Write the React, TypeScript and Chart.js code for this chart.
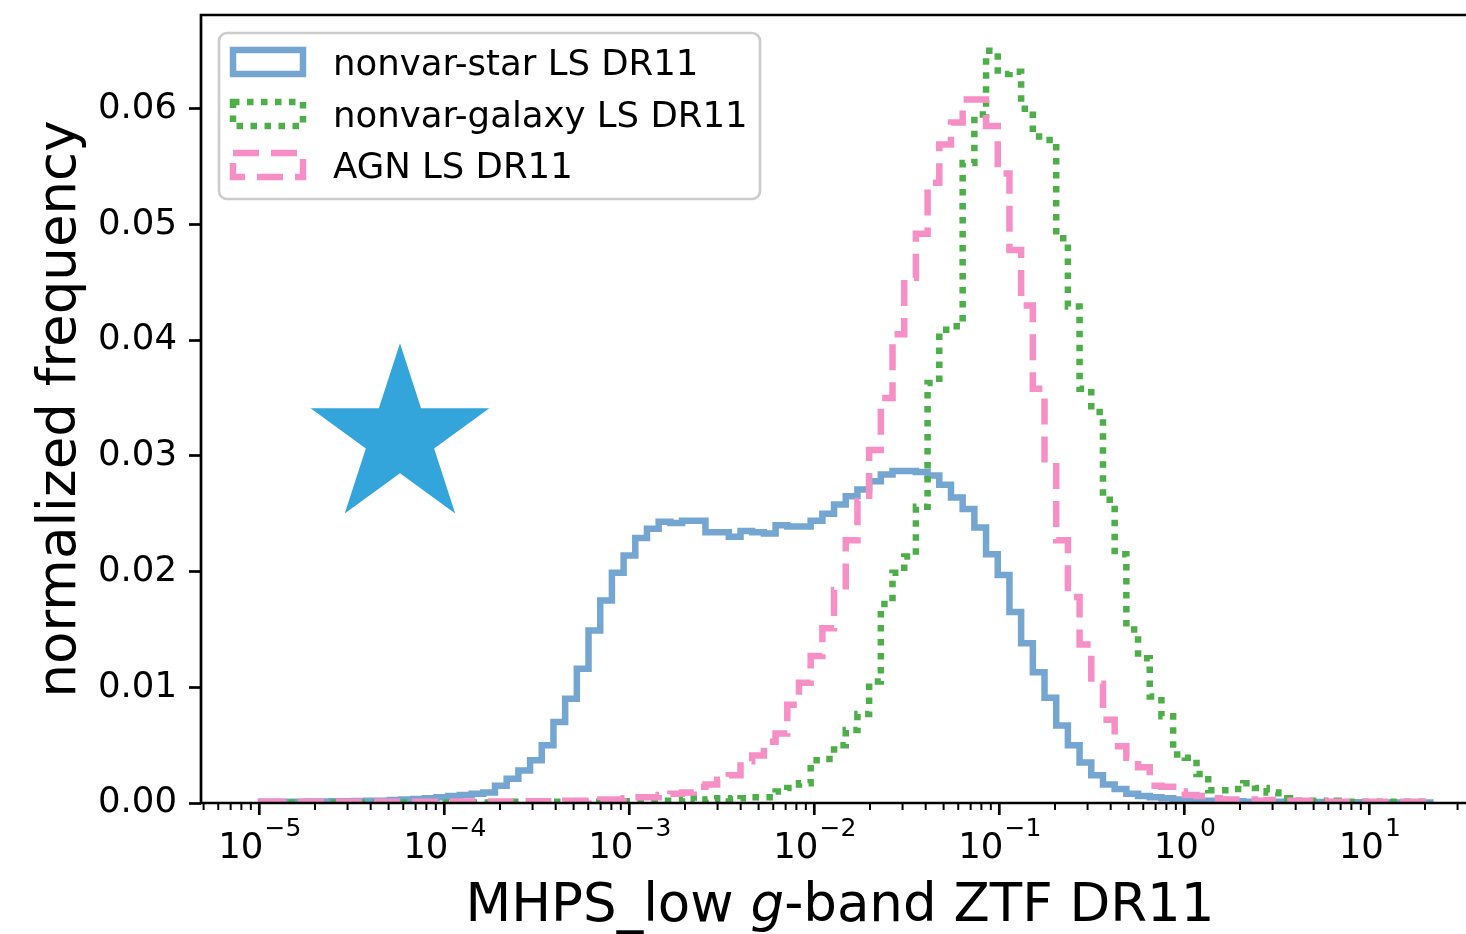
import React, { useEffect, useRef } from "react";
import { Chart, registerables } from "chart.js";

Chart.register(...registerables);

// ---- data -------------------------------------------------------------
const BIN_COUNT = 100;
const BIN_LOG_MIN = -4.99;
const BIN_LOG_MAX = 1.33;

const STAR_FREQ = [
  0.0001, 0.0001, 0.0001, 0.0001, 0.00012, 0.00012, 0.00015, 0.00015, 0.00018, 0.0002,
  0.0002, 0.00025, 0.0003, 0.00035, 0.0004, 0.0005, 0.0006, 0.0007, 0.0008, 0.0009,
  0.0015, 0.0021, 0.0028, 0.0037, 0.005, 0.007, 0.009, 0.0116, 0.0149, 0.0175,
  0.0199, 0.0214, 0.0229, 0.0237, 0.0243, 0.0242, 0.0244, 0.0244, 0.0234, 0.0234,
  0.023, 0.0235, 0.0234, 0.0233, 0.024, 0.0239, 0.0239, 0.0244, 0.025, 0.0258,
  0.0265, 0.0271, 0.0278, 0.0284, 0.0287, 0.0287, 0.0286, 0.0283, 0.0275, 0.0264,
  0.0254, 0.0238, 0.0215, 0.0197, 0.0165, 0.0138, 0.0113, 0.0091, 0.0067, 0.005,
  0.0035, 0.0024, 0.0016, 0.0012, 0.0008, 0.0006, 0.0005, 0.0004, 0.0003, 0.00025,
  0.0002, 0.0002, 0.00015, 0.00015, 0.0001, 0.0001, 0.0001, 0.0001, 0.0001, 0.0001,
  0.00008, 0.00008, 0.00006, 0.00006, 0.00005, 0.00005, 0.00005, 0.00004, 0.00004, 0.00004,
];

const GALAXY_FREQ = [
  0.00005, 0.00005, 0.00005, 0.00005, 0.00005, 0.00005, 0.00005, 0.00005, 0.00005, 0.00005,
  0.00005, 0.00005, 0.00005, 0.00005, 0.00005, 0.00005, 0.00005, 0.00005, 0.00005, 0.00005,
  0.00005, 0.0001, 0.0001, 0.0001, 0.0001, 0.0001, 0.0001, 0.0001, 0.0001, 0.0001,
  0.0001, 0.00015, 0.00015, 0.00015, 0.0002, 0.0002, 0.0004, 0.0002, 0.0003, 0.0004,
  0.0003, 0.0004, 0.0005, 0.0005, 0.001, 0.0013, 0.0017, 0.0037, 0.0038, 0.005,
  0.0063, 0.0077, 0.0105, 0.0172, 0.0199, 0.0213, 0.0256, 0.0363, 0.0409, 0.0412,
  0.0553, 0.0595, 0.065, 0.063, 0.0632, 0.06, 0.0576, 0.0573, 0.0488, 0.0429,
  0.0358, 0.0338, 0.0262, 0.0215, 0.015, 0.0125, 0.0092, 0.0075, 0.0042, 0.0039,
  0.0025, 0.0011, 0.0011, 0.0012, 0.0017, 0.0013, 0.0009, 0.0004, 0.0002, 0.0002,
  0.0002, 0.0001, 0.0002, 0.0001, 0.0001, 0.0001, 0.0001, 0.0001, 0.0001, 0.0001,
];

const AGN_FREQ = [
  0.0001, 0.0001, 0.0001, 0.0001, 0.0001, 0.0001, 0.0001, 0.0001, 0.0001, 0.0001,
  0.0001, 0.0001, 0.0001, 0.0001, 0.0001, 0.0001, 0.00012, 0.00012, 0.00012, 0.00012,
  0.00013, 0.00013, 0.00014, 0.00015, 0.00015, 0.00015, 0.0002, 0.0002, 0.00025, 0.0003,
  0.0003, 0.0004, 0.0005, 0.0005, 0.0007, 0.0008, 0.0009, 0.0014, 0.0016, 0.002,
  0.0024, 0.0036, 0.0041, 0.0053, 0.006, 0.0085, 0.0104, 0.0127, 0.0151, 0.0184,
  0.0227, 0.0261, 0.0305, 0.035, 0.0405, 0.0454, 0.0492, 0.0536, 0.0569, 0.0588,
  0.0608, 0.0608, 0.0585, 0.0544, 0.0478, 0.043, 0.0358, 0.0297, 0.0227, 0.0178,
  0.0137, 0.0103, 0.0072, 0.0049, 0.0039, 0.0031, 0.0015, 0.0014, 0.001, 0.0007,
  0.0006, 0.0004, 0.0003, 0.0003, 0.0003, 0.0002, 0.00025, 0.0002, 0.0002, 0.0002,
  0.00015, 0.0001, 0.0001, 0.0001, 0.0001, 0.0001, 0.0001, 0.0001, 0.0001, 0.0001,
];

const SERIES_LABELS = ["nonvar-star LS DR11", "nonvar-galaxy LS DR11", "AGN LS DR11"];
const Y_TICK_MAX = 0.06;
const Y_TICK_STEP = 0.01;
const X_DECADES = [-5, -4, -3, -2, -1, 0, 1];
const STAR_MARK = { x: 5.76e-5, y: 0.0316 };

// ---- styles -----------------------------------------------------------
const FONT = "DejaVu Sans";
const TICK_SIZE = 35.5;
const SUP_SIZE = 25;
const TITLE_SIZE = 53;
const BLUE = "#74a6d1";
const GREEN = "#4dae4a";
const PINK = "#f68fc6";
const STAR_COLOR = "#33a5da";
const LINE_W = 6.5;
const GREEN_DASH = [6.5, 7.5];
const PINK_DASH = [26, 12];

const X_MIN = Math.pow(10, -5.3151);
const X_MAX = Math.pow(10, 1.5227);
const Y_MAX = 0.0681;

const edges = Array.from({ length: BIN_COUNT + 1 }, (_, i) =>
  Math.pow(10, BIN_LOG_MIN + ((BIN_LOG_MAX - BIN_LOG_MIN) * i) / BIN_COUNT)
);

function stepPoints(freq: number[]) {
  const pts: { x: number; y: number }[] = [{ x: edges[0], y: 0 }];
  freq.forEach((v, i) => pts.push({ x: edges[i], y: v }));
  pts.push({ x: edges[BIN_COUNT], y: 0 });
  return pts;
}

const decorPlugin = {
  id: "decor",
  afterDatasetsDraw(chart: any) {
    const { ctx, chartArea, scales } = chart;
    const xs = scales.x;
    const ys = scales.y;
    ctx.save();
    // star marker
    const cx = xs.getPixelForValue(STAR_MARK.x);
    const cy = ys.getPixelForValue(STAR_MARK.y);
    const R = 94;
    const r = R * 0.381966;
    ctx.beginPath();
    for (let k = 0; k < 10; k++) {
      const a = -Math.PI / 2 + (k * Math.PI) / 5;
      const rad = k % 2 === 0 ? R : r;
      const px = cx + rad * Math.cos(a);
      const py = cy + rad * Math.sin(a);
      if (k === 0) ctx.moveTo(px, py);
      else ctx.lineTo(px, py);
    }
    ctx.closePath();
    ctx.fillStyle = STAR_COLOR;
    ctx.fill();

    // spines
    ctx.strokeStyle = "#000";
    ctx.lineWidth = 2.7;
    ctx.lineCap = "butt";
    ctx.beginPath();
    ctx.moveTo(chartArea.left, chartArea.bottom);
    ctx.lineTo(chartArea.left, chartArea.top);
    ctx.lineTo(chartArea.right + 5, chartArea.top);
    ctx.moveTo(chartArea.left - 1.35, chartArea.bottom);
    ctx.lineTo(chartArea.right + 5, chartArea.bottom);
    ctx.stroke();

    // x ticks (major and minor)
    for (let d = -6; d <= 2; d++) {
      for (let k = 1; k <= 9; k++) {
        const v = k * Math.pow(10, d);
        if (v < X_MIN || v > X_MAX) continue;
        const px = xs.getPixelForValue(v);
        const major = k === 1;
        ctx.lineWidth = major ? 2.7 : 2;
        ctx.beginPath();
        ctx.moveTo(px, chartArea.bottom);
        ctx.lineTo(px, chartArea.bottom + (major ? 12 : 7));
        ctx.stroke();
      }
    }

    // x tick labels
    ctx.fillStyle = "#000";
    ctx.textBaseline = "alphabetic";
    ctx.textAlign = "left";
    X_DECADES.forEach((d) => {
      const px = xs.getPixelForValue(Math.pow(10, d));
      const base = "10";
      const sup = d < 0 ? "\u2212" + Math.abs(d) : String(d);
      ctx.font = `${TICK_SIZE}px "${FONT}"`;
      const w1 = ctx.measureText(base).width;
      ctx.font = `${SUP_SIZE}px "${FONT}"`;
      const w2 = ctx.measureText(sup).width;
      const start = px - (w1 + w2) / 2;
      ctx.font = `${TICK_SIZE}px "${FONT}"`;
      ctx.fillText(base, start, 858);
      ctx.font = `${SUP_SIZE}px "${FONT}"`;
      ctx.fillText(sup, start + w1 + 1, 836);
    });

    // x title with italic g
    const parts = [
      { t: "MHPS_low ", f: `${TITLE_SIZE}px "${FONT}"` },
      { t: "g", f: `italic ${TITLE_SIZE}px "${FONT}"` },
      { t: "-band ZTF DR11", f: `${TITLE_SIZE}px "${FONT}"` },
    ];
    let total = 0;
    const widths = parts.map((p) => {
      ctx.font = p.f;
      const w = ctx.measureText(p.t).width;
      total += w;
      return w;
    });
    let tx = 840 - total / 2;
    parts.forEach((p, i) => {
      ctx.font = p.f;
      ctx.fillText(p.t, tx, 921);
      tx += widths[i];
    });

    // y title
    ctx.save();
    ctx.translate(75, 409);
    ctx.rotate(-Math.PI / 2);
    ctx.textAlign = "center";
    ctx.font = `${TITLE_SIZE}px "${FONT}"`;
    ctx.fillText("normalized frequency", 0, 0);
    ctx.restore();

    // legend
    const bx = 219, by = 33, bw = 541, bh = 166;
    ctx.beginPath();
    (ctx as any).roundRect(bx, by, bw, bh, 8);
    ctx.fillStyle = "rgba(255,255,255,0.8)";
    ctx.fill();
    ctx.strokeStyle = "#cccccc";
    ctx.lineWidth = 2.7;
    ctx.stroke();
    const rows = [62, 114, 165];
    const styles = [
      { c: BLUE, dash: [] as number[] },
      { c: GREEN, dash: GREEN_DASH },
      { c: PINK, dash: PINK_DASH },
    ];
    rows.forEach((ry, i) => {
      ctx.save();
      ctx.strokeStyle = styles[i].c;
      ctx.lineWidth = LINE_W;
      ctx.setLineDash(styles[i].dash);
      ctx.beginPath();
      ctx.rect(233, ry - 12, 70, 24);
      ctx.stroke();
      ctx.restore();
      ctx.fillStyle = "#000";
      ctx.font = `${TICK_SIZE}px "${FONT}"`;
      ctx.textAlign = "left";
      ctx.fillText(SERIES_LABELS[i], 333, ry + 13);
    });
    ctx.restore();
  },
};

export default function App() {
  const ref = useRef<HTMLCanvasElement | null>(null);
  useEffect(() => {
    if (!ref.current) return;
    const yTicks: number[] = [];
    for (let v = 0; v <= Y_TICK_MAX + 1e-9; v += Y_TICK_STEP) yTicks.push(+v.toFixed(2));
    const chart = new Chart(ref.current, {
      type: "line",
      data: {
        datasets: [
          {
            label: SERIES_LABELS[2],
            data: stepPoints(AGN_FREQ),
            borderColor: PINK,
            borderDash: PINK_DASH,
          },
          {
            label: SERIES_LABELS[1],
            data: stepPoints(GALAXY_FREQ),
            borderColor: GREEN,
            borderDash: GREEN_DASH,
          },
          {
            label: SERIES_LABELS[0],
            data: stepPoints(STAR_FREQ),
            borderColor: BLUE,
          },
        ].map((d) => ({
          ...d,
          borderWidth: LINE_W,
          pointRadius: 0,
          fill: false,
          stepped: "before" as const,
          tension: 0,
          borderCapStyle: "butt" as const,
          borderJoinStyle: "miter" as const,
        })),
      },
      options: {
        animation: false,
        responsive: false,
        devicePixelRatio: 1,
        layout: { padding: { top: 15, bottom: 131, left: 0, right: 0 }, autoPadding: false },
        plugins: { legend: { display: false }, tooltip: { enabled: false } },
        scales: {
          x: {
            type: "logarithmic",
            min: X_MIN,
            max: X_MAX,
            display: false,
          },
          y: {
            type: "linear",
            min: 0,
            max: Y_MAX,
            afterFit: (s: any) => {
              s.width = 201;
              s.paddingTop = 0;
              s.paddingBottom = 0;
            },
            afterBuildTicks: (s: any) => {
              s.ticks = yTicks.map((v) => ({ value: v }));
            },
            border: { display: false },
            grid: {
              display: true,
              drawOnChartArea: false,
              drawTicks: true,
              tickLength: 12,
              tickWidth: 2.7,
              tickColor: "#000",
            },
            ticks: {
              color: "#000",
              font: { family: FONT, size: TICK_SIZE },
              padding: 12,
              callback: (v: any) => Number(v).toFixed(2),
            },
          },
        },
      },
      plugins: [decorPlugin],
    } as any);
    return () => chart.destroy();
  }, []);
  return (
    <div style={{ position: "fixed", left: 0, top: 0, width: 1466, height: 934, background: "#fff" }}>
      <canvas ref={ref} width={1466} height={934} style={{ width: 1466, height: 934 }} />
    </div>
  );
}
